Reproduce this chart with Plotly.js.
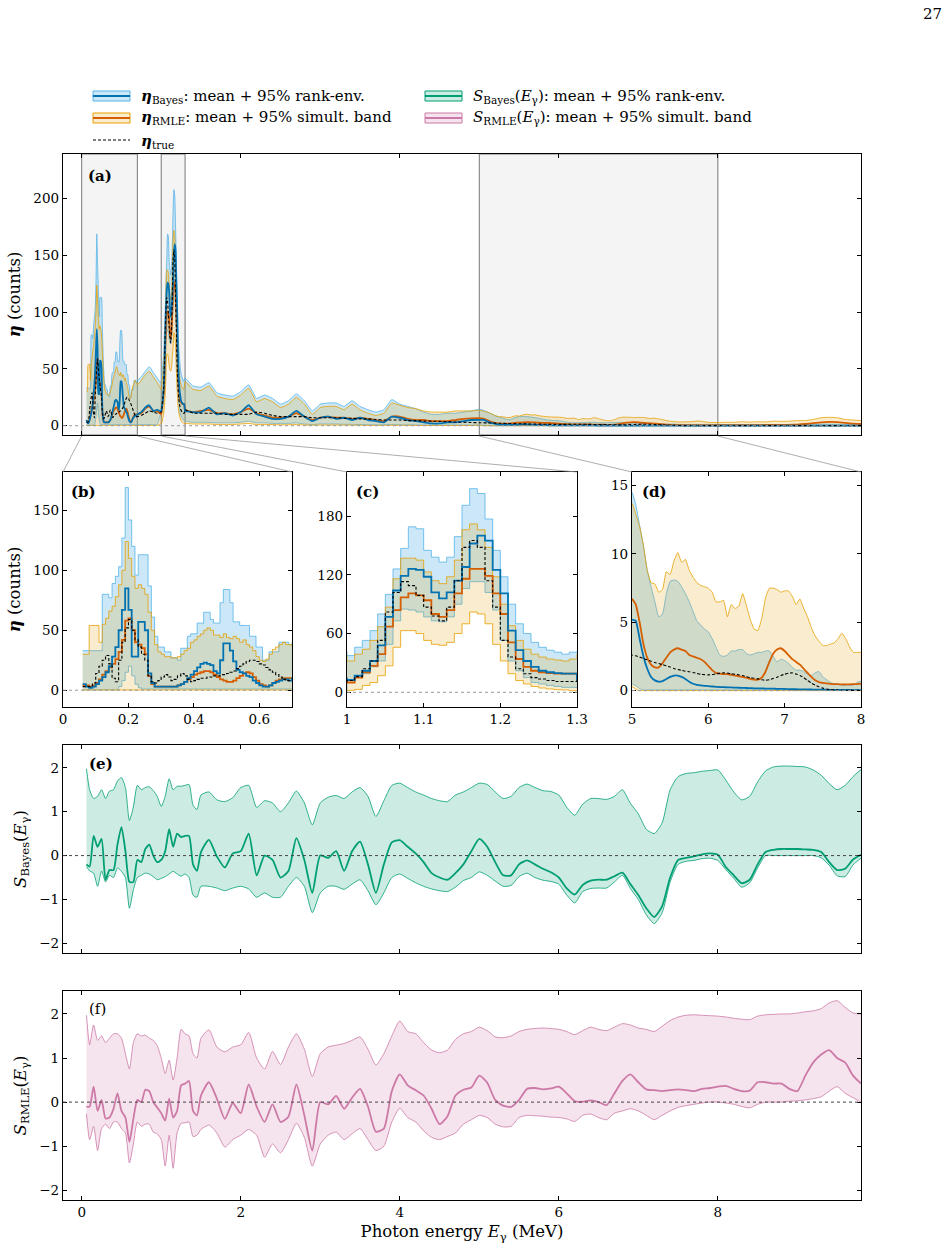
<!DOCTYPE html>
<html><head><meta charset="utf-8">
<script src="https://cdn.plot.ly/plotly-3.0.1.min.js"></script>
<style>html,body{margin:0;padding:0;background:#fff}#chart{width:950px;height:1253px}</style>
</head><body><div id="chart"></div>
<script>
// ---------- data: photon-energy grid for eta (MeV) ----------
const energy = [
0.06,0.07,0.08,0.09,0.10,0.11,0.12,0.13,0.14,0.15,0.16,0.17,0.18,0.19,0.20,0.21,0.22,0.23,0.24,0.25,0.26,0.27,0.28,0.29,0.30,0.31,0.32,0.33,0.34,0.35,0.36,0.37,0.38,0.39,0.40,0.41,0.42,0.43,0.44,0.45,0.46,0.47,0.48,0.49,0.50,0.51,0.52,0.53,0.54,0.55,0.56,0.57,0.58,0.59,0.60,0.61,0.62,0.63,0.64,0.65,0.66,0.67,0.68,0.69,
0.70,0.75,0.80,0.85,0.90,0.95,
1.00,1.01,1.02,1.03,1.04,1.05,1.06,1.07,1.08,1.09,1.10,1.11,1.12,1.13,1.14,1.15,1.16,1.17,1.18,1.19,1.20,1.21,1.22,1.23,1.24,1.25,1.26,1.27,1.28,1.29,
1.3,1.4,1.5,1.6,1.7,1.8,1.9,2.0,2.1,2.2,2.3,2.4,2.5,2.6,2.7,2.8,2.9,3.0,3.1,3.2,3.3,3.4,3.5,3.6,3.7,3.8,3.9,4.0,4.1,4.2,4.3,4.4,4.5,4.6,4.7,4.8,4.9,
5.00,5.05,5.10,5.15,5.20,5.25,5.30,5.35,5.40,5.45,5.50,5.55,5.60,5.65,5.70,5.75,5.80,5.85,5.90,5.95,6.00,6.05,6.10,6.15,6.20,6.25,6.30,6.35,6.40,6.45,6.50,6.55,6.60,6.65,6.70,6.75,6.80,6.85,6.90,6.95,7.00,7.05,7.10,7.15,7.20,7.25,7.30,7.35,7.40,7.45,7.50,7.55,7.60,7.65,7.70,7.75,7.80,7.85,7.90,7.95,8.00,
8.1,8.2,8.3,8.4,8.5,8.6,8.7,8.8,8.9,9.0,9.1,9.2,9.3,9.4,9.5,9.6,9.7,9.8
];
const etaBayesMean = [
5,3,2,3,5,8,11,15,20,28,36,50,67,85,67,28,28,57,57,50,14,6,3,3,3,3,3,3,3,4,5,7,10,13,16,19,22,23,22,21,16,14,25,39,39,33,24,17,15,14,12,11,8,6,4,3,3,4,6,7,8,9,9,8,
10,12,16,18,13,14,
12.6,17,22,32,48,77,104,119,126,125,118,102,96,102,114,128,152,160,155,125,101,63,43,32,26,22,20.5,19.5,19,19,
13,12,12,16,10,11,9,12,18,10,8,6,6,8,13,8,4,7,8,6,7,5,7,5,4,3,8,7,5,4,3,2,2,3,3,4,5,
5.2,5.1,3.8,2.5,1.6,1.0,0.75,0.65,0.7,0.85,1.0,1.1,1.1,1.0,0.85,0.65,0.5,0.42,0.38,0.35,0.33,0.3,0.28,0.26,0.25,0.24,0.23,0.22,0.21,0.2,0.19,0.18,0.17,0.17,0.16,0.15,0.15,0.14,0.13,0.12,0.12,0.11,0.1,0.1,0.09,0.09,0.08,0.08,0.07,0.07,0.07,0.06,0.06,0.06,0.05,0.05,0.05,0.05,0.04,0.04,0.04,
0.04,0.04,0.04,0.04,0.04,0.04,0.04,0.04,0.04,0.04,0.04,0.04,0.04,0.04,0.04,0.04,0.04,0.04
];
const etaBayesLo = [
0.3,0.3,0.3,0.3,0.3,0.3,0.3,0.3,0.3,0.3,0.3,3,8,15,20,12,5,2,1,1,1,1,1,1,1,1,1,1,1,1,1,1,1,1,1,1,1,1,1,1,1,1,1,1,1,1,1,1,1,1,1,1,1,1,1,1,1,1,1,1,1,1,1,1,
1,1,1,1,1,1,
12,15,19,26,32,49,73,85,84,82,77,73,72,77,90,106,113,113,102,84,53,32,22,15,10,8.5,7,6,5,5,
4,3,3,3,2.5,2.5,2.5,3,4,2.5,2.5,2,2,2,2.5,1.5,1,1.5,1.5,1.5,1.2,1.2,1,0.8,0.8,0.8,1,0.8,0.7,0.6,0.5,0.5,0.5,0.5,0.5,0.5,0.5,
0.5,0.35,0.15,0.05,0.05,0.05,0.05,0.05,0.05,0.05,0.05,0.05,0.05,0.05,0.05,0.05,0.05,0.05,0.05,0.05,0.05,0.05,0.05,0.05,0.05,0.05,0.05,0.05,0.05,0.05,0.05,0.05,0.05,0.05,0.05,0.05,0.05,0.05,0.05,0.05,0.05,0.05,0.05,0.05,0.05,0.05,0.05,0.05,0.05,0.05,0.05,0.05,0.05,0.05,0.05,0.05,0.05,0.05,0.05,0.05,0.05,
0.05,0.05,0.05,0.05,0.05,0.05,0.05,0.05,0.05,0.05,0.05,0.05,0.05,0.05,0.05,0.05,0.05,0.05
];
const etaBayesHi = [
33,33,33,33,33,33,80,80,77,89,95,103,127,169,142,120,96,113,113,113,87,61,45,36,36,32,32,27,27,25,35,35,45,47,47,56,56,65,65,59,56,56,73,84,84,73,57,57,54,54,54,45,45,36,36,25,25,32,32,32,40,40,40,38,
40,43,48,52,47,42,
37.5,46,53,63,80,100,126,147,169,167,145,138,133,138,159,191,208,203,177,145,118,90,70,60,51,46,43,41,39,41,
42,35,34,38,29,27,26,30,36,24,27,24,19,22,28,22,13,19,20,20,17,22,17,14,12,14,23,19,17,15,12,10,10,11,11,12,13,
14.5,13.6,12.1,10.6,8.8,7.6,6.5,5.4,5.6,7.1,8.0,8.1,8.0,7.6,7.1,6.5,5.8,5.1,4.8,4.5,4.3,3.8,3.2,2.6,2.5,2.6,2.9,2.9,3.0,3.0,2.7,2.6,2.7,2.8,2.8,2.9,2.9,2.5,2.1,2.3,2.2,2.0,1.7,1.5,1.5,1.4,1.2,1.1,1.3,1.4,1.0,0.8,0.6,0.5,0.5,0.4,0.4,0.4,0.4,0.6,0.7,
0.8,0.8,0.9,0.9,0.9,1.0,1.0,1.0,1.1,1.1,1.2,1.3,1.4,1.4,1.3,1.2,1.1,1.0
];
const etaRmleMean = [
4,4,3,4,6,9,13,16,19,22,26,32,42,58,60,50,40,38,35,30,12,5,3,3,3,3,3,3,3,4,5,7,9,11,13,14,15,16,16,15,13,11,9,8,7,7,8,10,12,14,15,14,11,8,5,4,3,4,6,8,9,10,10,10,
10,11,15,17,13,13,
10,15,20.5,27,39,67,84,97,101,99,94,80,77,84,101,116,126,126,119,101,80,51,34,26,22,20.5,19.5,19,19,19,
14,12,13,14,11,11,10,12,15,11,9,7,7,8,11,8,5,7,8,7,7,6,7,6,5,4,8,8,6,5,5,4,4,4,5,6,6.5,
6.7,6.3,5.0,3.4,2.4,1.9,1.7,1.7,2.0,2.4,2.8,3.0,3.1,3.0,2.9,2.6,2.5,2.4,2.3,2.1,1.8,1.5,1.3,1.25,1.2,1.2,1.15,1.1,1.05,1.0,0.95,0.85,0.8,0.8,0.95,1.4,2.1,2.7,3.0,3.1,2.9,2.6,2.3,2.1,1.9,1.6,1.3,1.0,0.75,0.62,0.56,0.53,0.5,0.48,0.47,0.45,0.45,0.46,0.47,0.48,0.5,
0.5,0.5,0.5,0.5,0.55,0.6,0.65,0.7,0.8,1.0,1.5,2.3,3.0,3.3,3.1,2.5,1.8,1.5
];
const etaRmleLo = [
0.2,0.2,0.2,0.2,0.2,0.2,0.2,0.2,0.2,0.2,0.2,0.2,0.2,0.2,0.2,0.2,0.2,0.2,0.2,0.2,0.2,0.2,0.2,0.2,0.2,0.2,0.2,0.2,0.2,0.2,0.2,0.2,0.2,0.2,0.2,0.2,0.2,0.2,0.2,0.2,0.2,0.2,0.2,0.2,0.2,0.2,0.2,0.2,0.2,0.2,0.2,0.2,0.2,0.2,0.2,0.2,0.2,0.2,0.2,0.2,0.2,0.2,0.2,0.2,
0.2,0.2,0.2,0.2,0.2,0.2,
2,3,7,10,17,27,46,63,63,60,53,49,48,51,60,70,82,80,70,49,32,19,12,8.5,6,4.4,3.4,2.7,2.4,1.7,
2,1.5,1.5,1.5,1,1,1,1.5,2,1,1,1,0.8,0.8,1,0.6,0.4,0.6,0.6,0.6,0.5,0.5,0.4,0.3,0.3,0.3,0.4,0.3,0.3,0.2,0.2,0.2,0.2,0.2,0.2,0.2,0.2,
0.3,0.1,0,0,0,0,0,0,0,0,0,0,0,0,0,0,0,0,0,0,0,0,0,0,0,0,0,0,0,0,0,0,0,0,0,0,0,0,0,0,0,0,0,0,0,0,0,0,0,0,0,0,0,0,0,0,0,0,0,0,0,
0,0,0,0,0,0,0,0,0,0,0,0,0,0,0,0,0,0
];
const etaRmleHi = [
30,30,54,54,54,40,55,60,66,70,78,88,100,124,110,95,85,88,85,80,65,50,38,32,30,28,28,27,27,28,30,33,35,40,42,45,47,50,52,50,46,46,44,47,44,43,45,43,40,42,38,36,33,28,25,24,26,30,34,36,38,40,38,38,
36,40,45,48,43,38,
32,39,44,53,67,87,116,137,137,135,123,114,111,118,135,166,172,166,148,118,90,68,53,44,39,36,34,33,32,34,
39,32,31,35,26,24,23,27,33,21,24,21,16,19,25,19,10,16,17,17,14,19,14,11,9,11,20,18,16,15,13,12,12,12,13,13,13,
13.7,12.9,12.0,10.6,8.8,7.9,7.8,7.2,7.4,8.7,8.5,9.5,10.1,9.4,9.6,8.8,8.3,7.9,7.7,7.6,7.5,7.2,6.5,6.5,6.6,5.4,6.3,6.0,6.2,7.1,6.2,5.2,4.5,4.4,5.3,6.8,7.5,7.5,7.4,7.2,7.3,7.3,6.9,6.3,6.7,6.0,5.4,4.6,4.0,3.6,3.3,3.3,3.4,3.5,3.8,4.2,3.8,3.2,2.8,2.8,2.8,
3,3,3.5,3.2,3.5,3.3,4,3.8,4,4.5,4.5,5.5,7,7.4,7,5.5,5,4.5
];
const etaTrue = [
3,3,3,6,14,20,25,29,22,10,7,25,40,52,59,50,42,36,30,25,12,7,6,8,11,13,11,8,9,12,14,12,9,7,8,9,10,10,11,11,12,12,13,13,14,15,16,18,20,22,24,25,25,24,22,21,19,17,15,13,11,9,8,8,
8,9,11,13,12,11,
12,16,24,32,53,82,102,113,109,99,87,78,73,87,114,148,155,148,114,87,53,36,24,19,15,13.6,12,11,11,11,
14,11,11,11,11,10,10,10,10,12,11,9,8,8,8,8,7,7,7,7,6.5,6.5,6,6,5.5,5,5,5,4.5,4.5,4,4,3.8,3.5,3.2,3,2.8,
2.6,2.55,2.45,2.35,2.25,2.15,2.05,1.98,1.9,1.82,1.72,1.62,1.55,1.48,1.42,1.38,1.33,1.26,1.2,1.17,1.15,1.17,1.22,1.26,1.3,1.28,1.23,1.2,1.15,1.1,1.02,0.95,0.9,0.86,0.8,0.75,0.8,0.88,0.98,1.1,1.2,1.28,1.3,1.22,1.1,0.95,0.75,0.55,0.4,0.28,0.18,0.12,0.08,0.05,0.04,0.03,0.03,0.02,0.02,0.02,0.02,
0.02,0.02,0.02,0.02,0.02,0.02,0.02,0.02,0.02,0.02,0.02,0.02,0.02,0.02,0.02,0.02,0.02,0.02
];

// ---------- data: S(E_gamma) grid and series ----------
const energyS = [
0.06,0.10,0.15,0.20,0.25,0.30,0.35,0.40,0.45,0.50,0.55,0.60,0.65,0.70,0.75,0.80,0.85,0.90,0.95,1.00,1.05,1.10,1.15,1.20,1.25,1.30,1.35,1.40,1.45,1.50,
1.6,1.7,1.8,1.9,2.0,2.1,2.2,2.3,2.4,2.5,2.6,2.7,2.8,2.9,3.0,3.1,3.2,3.3,3.4,3.5,3.6,3.7,3.8,3.9,4.0,4.1,4.2,4.3,4.4,4.5,4.6,4.7,4.8,4.9,5.0,5.1,5.2,5.3,5.4,5.5,5.6,5.7,5.8,5.9,6.0,6.1,6.2,6.3,6.4,6.5,6.6,6.7,6.8,6.9,7.0,7.1,7.2,7.3,7.4,7.5,7.6,7.7,7.8,7.9,8.0,8.1,8.2,8.3,8.4,8.5,8.6,8.7,8.8,8.9,9.0,9.1,9.2,9.3,9.4,9.5,9.6,9.7,9.8
];
const sBayesMean = [
-0.2,-0.25,0.45,0.2,0.38,-0.55,-0.33,-0.33,0.25,0.65,0.1,-0.6,-0.6,-0.1,-0.15,0.15,0.25,0.0,-0.15,-0.1,0.1,0.6,0.2,0.5,0.42,0.45,0.45,-0.2,-0.35,0.08,
0.36,-0.02,-0.27,0.05,0.1,0.5,-0.45,0.0,-0.1,-0.5,
-0.35,0.4,-0.1,-0.85,0.0,-0.05,0.1,-0.35,0.1,0.32,
-0.2,-0.85,-0.2,0.3,0.35,0.2,0.05,-0.15,-0.4,-0.5,
-0.55,-0.4,-0.2,0.1,0.38,0.2,-0.15,-0.45,-0.45,-0.2,
-0.11,-0.2,-0.3,-0.38,-0.5,-0.75,-0.89,-0.67,-0.57,-0.55,
-0.55,-0.47,-0.39,-0.65,-0.9,-1.2,-1.4,-1.15,-0.5,-0.1,
-0.05,-0.02,0.03,0.05,0.02,-0.26,-0.45,-0.63,-0.55,-0.2,
0.08,0.13,0.15,0.15,0.15,0.14,0.13,0.08,-0.15,-0.33,
-0.3,-0.09,0.02
];
const sBayesLo = [
-0.25,-0.35,-0.4,-0.7,-0.35,-0.6,-0.45,-0.5,-0.28,-0.36,-0.5,-1.2,-0.78,-0.5,-0.45,-0.4,-0.42,-0.48,-0.55,-0.52,-0.48,-0.42,-0.36,-0.42,-0.47,-0.42,-0.5,-0.9,-0.95,-0.7,
-0.7,-0.74,-0.8,-0.74,-0.7,-0.76,-0.95,-0.85,-0.95,-0.95,
-0.7,-0.5,-0.7,-1.3,-0.85,-0.7,-0.7,-0.77,-0.65,-0.55,
-0.8,-1.12,-0.85,-0.5,-0.42,-0.52,-0.62,-0.7,-0.76,-0.8,
-0.82,-0.72,-0.57,-0.5,-0.37,-0.45,-0.58,-0.7,-0.68,-0.48,
-0.4,-0.5,-0.56,-0.59,-0.65,-0.9,-1.08,-0.82,-0.75,-0.74,
-0.74,-0.6,-0.45,-0.75,-1.0,-1.35,-1.55,-1.3,-0.6,-0.2,
-0.13,-0.11,-0.07,-0.06,-0.11,-0.32,-0.52,-0.72,-0.62,-0.28,
0.0,0.0,0.0,0.0,0.0,0.0,0.0,-0.05,-0.22,-0.46,
-0.48,-0.21,-0.06
];
const sBayesHi = [
1.98,1.5,1.3,1.35,1.5,1.3,1.47,1.5,1.7,1.78,1.55,0.8,1.11,1.6,1.5,1.55,1.57,1.48,1.35,1.12,1.35,1.75,1.5,1.58,1.58,1.6,1.62,1.15,1.05,1.38,
1.45,1.27,1.23,1.32,1.55,1.6,1.1,1.25,1.2,1.0,
1.2,1.47,1.2,0.7,1.2,1.33,1.37,1.3,1.45,1.55,
1.35,0.89,1.25,1.6,1.65,1.55,1.45,1.38,1.3,1.25,
1.23,1.38,1.45,1.55,1.65,1.62,1.45,1.3,1.35,1.55,
1.63,1.55,1.48,1.46,1.38,1.1,0.92,1.17,1.3,1.3,
1.28,1.35,1.5,1.19,0.95,0.6,0.5,0.75,1.5,1.8,
1.87,1.89,1.92,1.94,1.95,1.72,1.45,1.27,1.35,1.68,
1.93,2.02,2.04,2.04,2.03,2.02,1.95,1.83,1.64,1.5,
1.6,1.8,1.96
];
const sRmleMean = [
-0.1,-0.1,0.35,-0.2,0.05,-0.37,-0.35,-0.15,0.2,-0.2,-0.35,-0.9,-0.38,0.05,0.0,0.28,0.25,0.0,-0.12,-0.25,-0.42,0.08,-0.35,-0.2,0.38,0.42,0.48,-0.2,-0.3,0.15,
0.45,0.08,-0.38,-0.02,-0.25,0.4,-0.1,-0.45,-0.05,-0.45,
-0.33,0.4,-0.3,-1.1,0.0,-0.05,0.14,-0.15,0.1,0.3,
-0.1,-0.67,-0.6,0.25,0.63,0.38,0.27,0.15,-0.15,-0.5,
-0.32,0.15,0.28,0.33,0.6,0.44,0.05,-0.08,-0.11,0.05,
0.3,0.32,0.29,0.31,0.35,0.2,0.02,0.01,0.04,0.0,
-0.07,0.2,0.48,0.63,0.45,0.29,0.27,0.25,0.27,0.29,
0.27,0.25,0.3,0.32,0.35,0.37,0.3,0.25,0.26,0.45,
0.45,0.42,0.42,0.3,0.25,0.6,0.9,1.08,1.18,1.0,
0.9,0.6,0.42
];
const sRmleLo = [
-0.26,-0.85,-0.55,-1.1,-0.6,-0.5,-0.6,-0.45,-0.45,-0.6,-0.7,-1.38,-0.95,-0.45,-0.55,-0.5,-0.5,-0.68,-0.72,-0.85,-1.45,-0.75,-1.5,-0.7,-0.48,-0.47,-0.45,-0.78,-0.75,-0.62,
-0.52,-0.7,-1.02,-0.85,-0.75,-0.62,-0.75,-1.25,-0.95,-1.15,
-0.85,-0.48,-0.8,-1.45,-0.95,-0.75,-0.68,-0.85,-0.72,-0.6,
-0.85,-1.1,-1.0,-0.45,-0.14,-0.35,-0.45,-0.65,-0.8,-0.85,
-0.78,-0.7,-0.5,-0.4,-0.3,-0.35,-0.5,-0.56,-0.55,-0.35,
-0.3,-0.31,-0.32,-0.34,-0.35,-0.38,-0.44,-0.3,-0.27,-0.35,
-0.4,-0.25,-0.2,-0.15,-0.2,-0.3,-0.4,-0.3,-0.2,-0.12,
-0.08,-0.05,-0.02,0.0,0.0,-0.02,-0.05,-0.1,-0.13,-0.05,
0.0,0.0,0.0,0.02,0.03,0.05,0.08,0.12,0.25,0.35,
0.2,0.1,0.0
];
const sRmleHi = [
1.97,1.3,1.75,1.4,1.5,1.35,1.45,1.55,1.55,1.45,1.1,0.75,1.35,1.55,1.5,1.52,1.45,1.4,1.28,1.0,0.65,0.95,0.5,1.0,1.65,1.55,1.5,1.1,1.0,1.45,
1.64,1.25,1.14,1.25,1.3,1.58,1.0,0.75,1.15,0.85,
1.25,1.55,1.2,0.58,1.1,1.25,1.29,1.33,1.4,1.48,
1.2,0.84,1.1,1.5,1.84,1.6,1.55,1.35,1.18,1.12,
1.18,1.42,1.55,1.6,1.7,1.62,1.48,1.46,1.5,1.6,
1.65,1.67,1.68,1.67,1.65,1.6,1.53,1.62,1.7,1.65,
1.62,1.7,1.78,1.75,1.68,1.65,1.6,1.72,1.85,1.93,
1.97,1.98,1.97,1.96,1.95,1.93,1.9,1.88,1.87,1.95,
1.98,1.99,2.0,2.0,2.02,2.05,2.07,2.12,2.25,2.3,
2.15,2.02,2.0
];
const zoomWindows = [[0, 0.7], [1.0, 1.3], [5.0, 8.0]];
const ticksMain = [0, 2, 4, 6, 8];

// ---------- styling / layout ----------
const W = 950, H = 1253;
const FONT = 'DejaVu Serif, Liberation Serif, serif';
const px = x => x / W, py = y => 1 - y / H;
const C = {
  bLine: '#56B4E9', bFill: 'rgba(86,180,233,0.30)', bMean: '#0072B2',
  oLine: '#E69F00', oFill: 'rgba(230,159,0,0.19)', oMean: '#D55E00',
  gLine: '#009E73', gFill: 'rgba(0,158,115,0.2)',
  pLine: '#CC79A7', pFill: 'rgba(204,121,167,0.2)'
};

function etaTraces(xa, ya, shape) {
  const base = {x: energy, xaxis: xa, yaxis: ya, type: 'scatter', mode: 'lines', showlegend: false, hoverinfo: 'skip'};
  const ln = (color, width, extra) => Object.assign({color, width, shape}, shape === 'spline' ? {smoothing: 0.4} : {}, extra || {});
  return [
    Object.assign({}, base, {y: etaBayesLo, line: ln(C.bLine, 0.8)}),
    Object.assign({}, base, {y: etaBayesHi, fill: 'tonexty', fillcolor: C.bFill, line: ln(C.bLine, 0.8)}),
    Object.assign({}, base, {y: etaRmleLo, line: ln(C.oLine, 0.8)}),
    Object.assign({}, base, {y: etaRmleHi, fill: 'tonexty', fillcolor: C.oFill, line: ln(C.oLine, 0.8)}),
    Object.assign({}, base, {y: etaRmleMean, line: ln(C.oMean, 1.8)}),
    Object.assign({}, base, {y: etaBayesMean, line: ln(C.bMean, 1.8)}),
    Object.assign({}, base, {y: etaTrue, line: ln('#000', 1.1, {dash: '3px,2px'})})
  ];
}
function sTraces(xa, ya, lo, hi, mean, lc, fc) {
  const base = {x: energyS, xaxis: xa, yaxis: ya, type: 'scatter', mode: 'lines', showlegend: false, hoverinfo: 'skip'};
  return [
    Object.assign({}, base, {y: lo, line: {color: lc, width: 0.8, shape: 'spline', smoothing: 0.6}}),
    Object.assign({}, base, {y: hi, fill: 'tonexty', fillcolor: fc, line: {color: lc, width: 0.8, shape: 'spline', smoothing: 0.6}}),
    Object.assign({}, base, {y: mean, line: {color: lc, width: 1.8, shape: 'spline', smoothing: 0.6}})
  ];
}

const data = [].concat(
  etaTraces('x', 'y', 'spline'),
  etaTraces('x2', 'y2', 'hv'),
  etaTraces('x3', 'y3', 'hv'),
  etaTraces('x4', 'y4', 'spline'),
  sTraces('x5', 'y5', sBayesLo, sBayesHi, sBayesMean, C.gLine, C.gFill),
  sTraces('x6', 'y6', sRmleLo, sRmleHi, sRmleMean, C.pLine, C.pFill)
);

function ax(extra) {
  return Object.assign({
    showline: true, linecolor: '#000', linewidth: 1.2, mirror: 'ticks',
    ticks: 'inside', ticklen: 4, tickwidth: 1, tickcolor: '#000',
    showgrid: false, zeroline: false, fixedrange: true,
    tickfont: {family: FONT, size: 13.5, color: '#000'}
  }, extra);
}
const titleFont = {family: FONT, size: 16.5, color: '#000'};
const dom = (a, b) => [px(a), px(b)];
const domY = (top, bot) => [py(bot), py(top)];
const fullRange = [-0.235, 9.8];

const layout = {
  width: W, height: H, margin: {l: 0, r: 0, t: 0, b: 0},
  paper_bgcolor: '#fff', plot_bgcolor: 'rgba(0,0,0,0)', showlegend: false,
  font: {family: FONT, color: '#000'},
  xaxis: ax({domain: dom(63, 861), anchor: 'y', range: fullRange, tickvals: ticksMain, showticklabels: false}),
  yaxis: ax({domain: domY(154, 435), anchor: 'x', range: [-8.2, 239.4], tickvals: [0, 50, 100, 150, 200],
    title: {text: '<b><i>η</i></b> (counts)', font: titleFont, standoff: 8}}),
  xaxis2: ax({domain: dom(63, 292), anchor: 'y2', range: [0, 0.7], tickvals: [0, 0.2, 0.4, 0.6]}),
  yaxis2: ax({domain: domY(472, 707), anchor: 'x2', range: [-14, 182], tickvals: [0, 50, 100, 150],
    title: {text: '<b><i>η</i></b> (counts)', font: titleFont, standoff: 8}}),
  xaxis3: ax({domain: dom(347, 577), anchor: 'y3', range: [1.0, 1.3], tickvals: [1, 1.1, 1.2, 1.3], ticktext: ['1', '1.1', '1.2', '1.3']}),
  yaxis3: ax({domain: domY(472, 707), anchor: 'x3', range: [-15, 225], tickvals: [0, 60, 120, 180]}),
  xaxis4: ax({domain: dom(632, 861), anchor: 'y4', range: [5, 8], tickvals: [5, 6, 7, 8]}),
  yaxis4: ax({domain: domY(472, 707), anchor: 'x4', range: [-1.2, 16], tickvals: [0, 5, 10, 15]}),
  xaxis5: ax({domain: dom(63, 861), anchor: 'y5', range: fullRange, tickvals: ticksMain, showticklabels: false}),
  yaxis5: ax({domain: domY(745, 953), anchor: 'x5', range: [-2.22, 2.52], tickvals: [-2, -1, 0, 1, 2],
    title: {text: '<i>S</i><sub>Bayes</sub>(<i>E</i><sub>γ</sub>)', font: titleFont, standoff: 8}}),
  xaxis6: ax({domain: dom(63, 861), anchor: 'y6', range: fullRange, tickvals: ticksMain,
    title: {text: 'Photon energy <i>E</i><sub>γ</sub> (MeV)', font: titleFont, standoff: 6}}),
  yaxis6: ax({domain: domY(991, 1200), anchor: 'x6', range: [-2.22, 2.52], tickvals: [-2, -1, 0, 1, 2],
    title: {text: '<i>S</i><sub>RMLE</sub>(<i>E</i><sub>γ</sub>)', font: titleFont, standoff: 8}}),
  shapes: [],
  annotations: []
};

// zoom windows in (a)
zoomWindows.forEach(w => layout.shapes.push({type: 'rect', xref: 'x', yref: 'y domain', x0: w[0], x1: w[1], y0: 0, y1: 1,
  fillcolor: 'rgba(0,0,0,0.045)', line: {color: '#777', width: 1}, layer: 'below'}));
// zero reference lines
[['x', 'y'], ['x2', 'y2'], ['x3', 'y3'], ['x4', 'y4']].forEach(p => layout.shapes.push({type: 'line', xref: p[0] + ' domain', yref: p[1],
  x0: 0, x1: 1, y0: 0, y1: 0, line: {color: '#999', width: 1, dash: 'dot'}}));
[['x5', 'y5'], ['x6', 'y6']].forEach(p => layout.shapes.push({type: 'line', xref: p[0] + ' domain', yref: p[1],
  x0: 0, x1: 1, y0: 0, y1: 0, line: {color: '#444', width: 1, dash: 'dot'}}));
// connector lines (a) -> insets
const insetEdges = [[63, 292], [347, 577], [632, 861]];
zoomWindows.forEach((w, i) => {
  [0, 1].forEach(k => {
    const xa = 63 + (w[k] - fullRange[0]) / (fullRange[1] - fullRange[0]) * (861 - 63);
    layout.shapes.push({type: 'line', xref: 'paper', yref: 'paper', x0: px(xa), y0: py(436), x1: px(insetEdges[i][k]), y1: py(472),
      line: {color: '#999', width: 0.8}});
  });
});

// legend (manual)
const legFont = {family: FONT, size: 15, color: '#000'};
function swatch(x, y, lineC, fillC, meanC) {
  layout.shapes.push({type: 'rect', xref: 'paper', yref: 'paper', x0: px(x), x1: px(x + 37), y0: py(y + 5), y1: py(y - 5),
    fillcolor: fillC, line: {color: lineC, width: 1}});
  layout.shapes.push({type: 'line', xref: 'paper', yref: 'paper', x0: px(x), x1: px(x + 37), y0: py(y), y1: py(y),
    line: {color: meanC, width: 1.8}});
}
function legText(x, y, t) {
  layout.annotations.push({xref: 'paper', yref: 'paper', x: px(x), y: py(y), xanchor: 'left', yanchor: 'middle',
    text: t, showarrow: false, font: legFont});
}
swatch(93, 96, C.bLine, C.bFill, C.bMean);
legText(139, 96, '<b><i>η</i></b><sub>Bayes</sub>: mean + 95% rank-env.');
swatch(93, 118, C.oLine, C.oFill, C.oMean);
legText(139, 118, '<b><i>η</i></b><sub>RMLE</sub>: mean + 95% simult. band');
layout.shapes.push({type: 'line', xref: 'paper', yref: 'paper', x0: px(93), x1: px(130), y0: py(140), y1: py(140),
  line: {color: '#000', width: 1.1, dash: '3px,2px'}});
legText(139, 141, '<b><i>η</i></b><sub>true</sub>');
swatch(425, 96, C.gLine, C.gFill, C.gLine);
legText(471, 96, '<i>S</i><sub>Bayes</sub>(<i>E</i><sub>γ</sub>): mean + 95% rank-env.');
swatch(425, 118, C.pLine, C.pFill, C.pLine);
legText(471, 118, '<i>S</i><sub>RMLE</sub>(<i>E</i><sub>γ</sub>): mean + 95% simult. band');

// panel labels
const lblFont = {family: FONT, size: 15, color: '#000'};
[['<b>(a)</b>', 86, 176], ['<b>(b)</b>', 69, 492], ['<b>(c)</b>', 354, 492], ['<b>(d)</b>', 640, 492],
 ['<b>(e)</b>', 87, 764], ['(f)', 87, 1009]].forEach(a => layout.annotations.push({xref: 'paper', yref: 'paper',
  x: px(a[1]), y: py(a[2]), xanchor: 'left', yanchor: 'middle', text: a[0], showarrow: false, font: lblFont}));
// page number
layout.annotations.push({xref: 'paper', yref: 'paper', x: px(944), y: py(14), xanchor: 'right', yanchor: 'middle',
  text: '27', showarrow: false, font: {family: FONT, size: 15, color: '#000'}});

Plotly.newPlot('chart', data, layout, {staticPlot: true, displayModeBar: false});
</script></body></html>
